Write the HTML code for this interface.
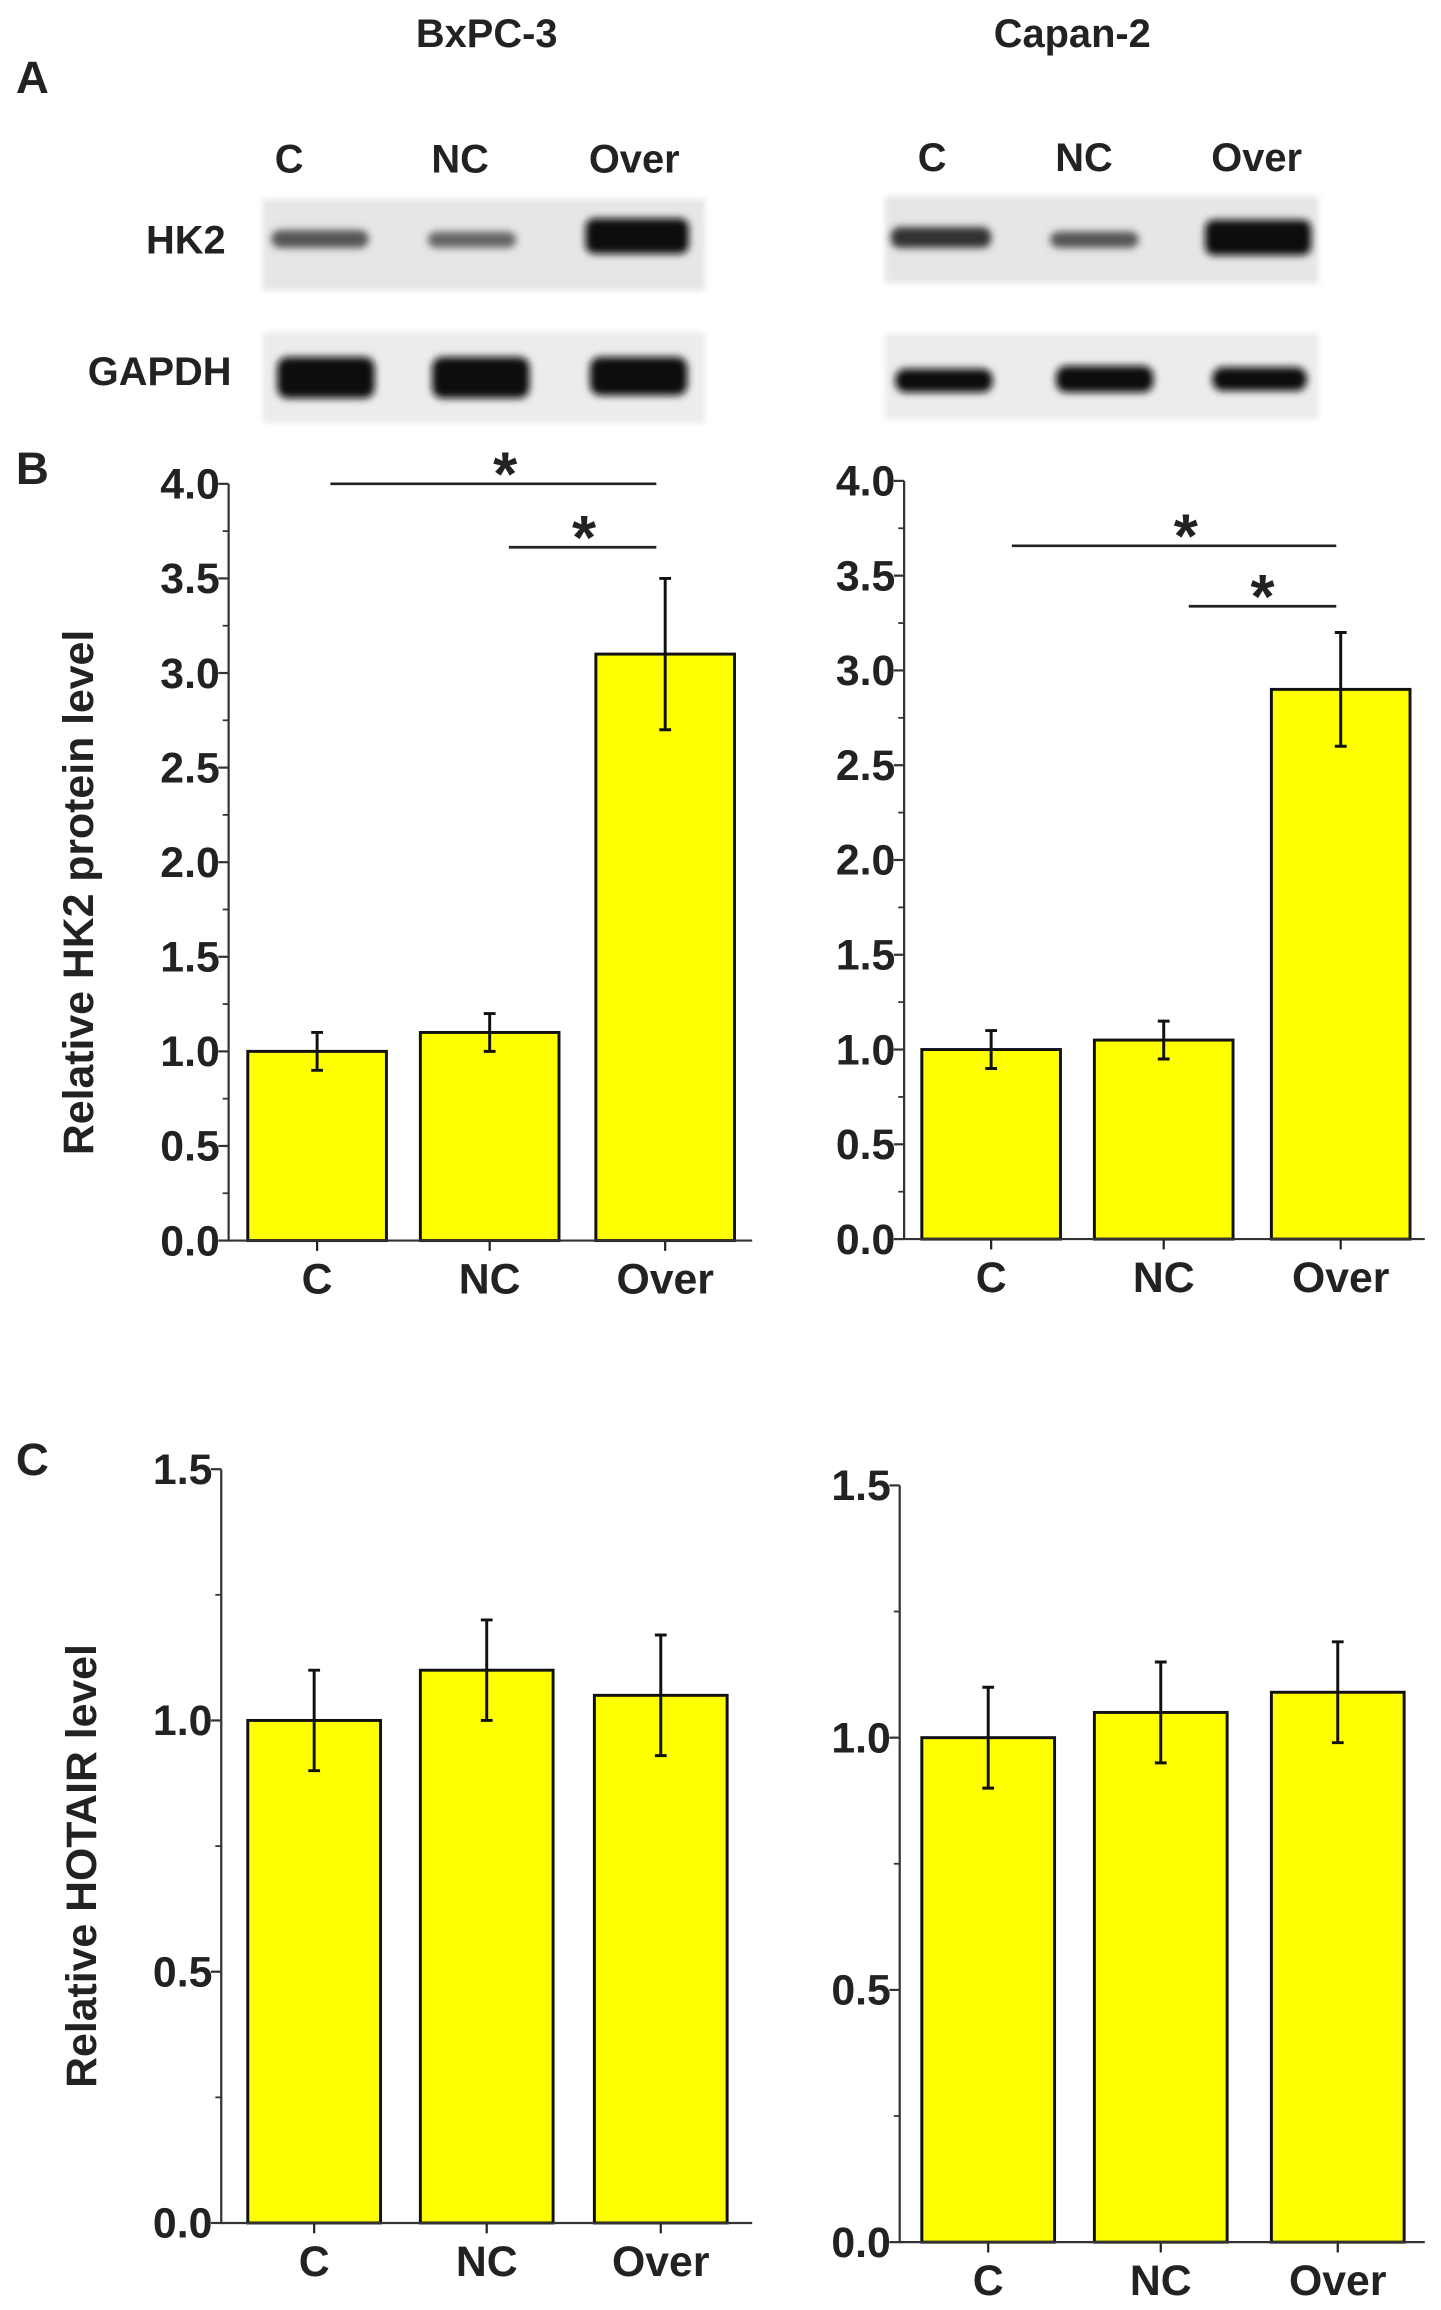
<!DOCTYPE html>
<html><head><meta charset="utf-8"><style>
html,body{margin:0;padding:0;background:#fff}
svg{display:block}
text{font-family:"Liberation Sans",Arial,sans-serif;font-weight:bold;fill:#222}
</style></head><body>
<svg id="fig" width="1441" height="2310" viewBox="0 0 977 1566" preserveAspectRatio="none" xmlns="http://www.w3.org/2000/svg">
<defs>
<filter id="blur" x="-20%" y="-50%" width="140%" height="200%"><feGaussianBlur stdDeviation="2.5"/></filter>
<filter id="blur2" x="-10%" y="-20%" width="120%" height="140%"><feGaussianBlur stdDeviation="2"/></filter>
</defs>
<g id="blots"></g>
<g id="charts"></g>
</svg>
<script>
const NS="http://www.w3.org/2000/svg";
const svg=document.getElementById('fig');
function mk(tag,attrs,parent,txt){const e=document.createElementNS(NS,tag);for(const k in attrs)e.setAttribute(k,attrs[k]);if(txt!==undefined)e.textContent=txt;(parent||svg).appendChild(e);return e;}

// ---- data ----
const categories=["C","NC","Over"];
const hk2BxpcValues=[1.0,1.1,3.1];
const hk2BxpcErrors=[0.1,0.1,0.4];
const hk2CapanValues=[1.0,1.05,2.9];
const hk2CapanErrors=[0.1,0.1,0.3];
const hotairBxpcValues=[1.0,1.1,1.05];
const hotairBxpcErrors=[0.1,0.1,0.12];
const hotairCapanValues=[1.0,1.05,1.09];
const hotairCapanErrors=[0.1,0.1,0.1];
const hk2Ticks=["0.0","0.5","1.0","1.5","2.0","2.5","3.0","3.5","4.0"];
const hotairTicks=["0.0","0.5","1.0","1.5"];

// ---- titles / letters ----
const t1=mk('text',{x:330,y:32,'font-size':27,'text-anchor':'middle'},svg,'BxPC-3');


const t2=mk('text',{x:727,y:32,'font-size':27,'text-anchor':'middle'},svg,'Capan-2');


[['A',22,63],['B',22,328],['C',22,1000]].forEach(([l,x,y])=>{
  const e=mk('text',{x:x,y:y,'font-size':31,'text-anchor':'middle'},svg,l);
  
  
});

// ---- blots ----
const blots=document.getElementById('blots');
function blot(x0,x1,laneX,labelY,hk2Bands,gBands,hkY,gY){
  categories.forEach((c,i)=>{
    const e=mk('text',{x:laneX[i],y:labelY,'font-size':27,'text-anchor':'middle'},blots,c);
    
    
  });
  const r1=mk('rect',{x:x0,y:hkY[0],width:x1-x0,height:hkY[1]-hkY[0],fill:'#e6e6e6',filter:'url(#blur2)'},blots);
  
  
  const r2=mk('rect',{x:x0,y:gY[0],width:x1-x0,height:gY[1]-gY[0],fill:'#ececec',filter:'url(#blur2)'},blots);
  
  
  hk2Bands.forEach(b=>{
    const e=mk('rect',{x:b[0],y:b[1],width:b[2],height:b[3],rx:6,fill:b[4],filter:'url(#blur)'},blots);
    
    
  });
  gBands.forEach(b=>{
    const e=mk('rect',{x:b[0],y:b[1],width:b[2],height:b[3],rx:7,fill:b[4],filter:'url(#blur)'},blots);
    
    
  });
}
blot(178,478,[196,312,430],117,
 [[184,156,66,12,'#555'],[290,157,60,11,'#666'],[397,148,70,24,'#111']],
 [[188,242,66,28,'#0a0a0a'],[293,242,66,28,'#0a0a0a'],[400,242,66,26,'#0a0a0a']],
 [135,197],[225,287]);
blot(600,894,[632,735,852],116,
 [[604,154,68,14,'#333'],[712,157,60,11,'#555'],[817,149,72,24,'#111']],
 [[607,250,66,16,'#111'],[716,248,66,18,'#0a0a0a'],[822,249,64,16,'#111']],
 [133,192],[226,284]);
[['HK2',153,172],['GAPDH',157,261]].forEach(([l,x,y])=>{
  const e=mk('text',{x:x,y:y,'font-size':27,'text-anchor':'end'},blots,l);
  
  
});

// ---- charts ----
function chart(o){
  const g=mk('g',{},document.getElementById('charts'));
  
  
  const max=o.max;
  const y=v=>o.y0-(v/max)*(o.y0-o.yTop);
  const bx=i=>o.barX[i];
  o.values.forEach((v,i)=>{
    const r=mk('rect',{x:bx(i),y:y(v),width:o.barW,height:o.y0-y(v),fill:'#ffff00',stroke:'#111','stroke-width':2},g);
    
    
    const cx=bx(i)+o.barW/2, hi=y(v+o.errors[i]), lo=y(v-o.errors[i]);
    const eb=mk('path',{d:`M${cx},${hi}V${lo}M${cx-4},${hi}H${cx+4}M${cx-4},${lo}H${cx+4}`,stroke:'#111','stroke-width':2,fill:'none'},g);
    
    
    const tk=mk('line',{x1:cx,y1:o.y0,x2:cx,y2:o.y0+7,stroke:'#222','stroke-width':1.5},g);
    
    
    const tl=mk('text',{x:cx,y:o.y0+36,'font-size':29,'text-anchor':'middle'},g,categories[i]);
    
    
  });
  const ax=mk('path',{d:`M${o.ax},${o.yTop}V${o.y0}H${o.axEnd}`,stroke:'#333','stroke-width':1.5,fill:'none'},g);
  
  
  const n=o.ticks.length-1;
  o.ticks.forEach((t,i)=>{
    const v=parseFloat(t), yy=y(v);
    const l=mk('line',{x1:o.ax-7,y1:yy,x2:o.ax,y2:yy,stroke:'#333','stroke-width':1.5},g);
    
    
    const tx=mk('text',{x:o.ax-6,y:yy+10,'font-size':29,'text-anchor':'end'},g,t);
    
    
    if(i<n){const step=parseFloat(o.ticks[1]);const ym=y(v+step/2);
      const m=mk('line',{x1:o.ax-4,y1:ym,x2:o.ax,y2:ym,stroke:'#333','stroke-width':1.2},g);
      
      }
  });
  if(o.title){
    const tt=mk('text',{x:0,y:0,'font-size':29,'text-anchor':'middle',transform:`translate(${o.titleX},${o.titleY}) rotate(-90)`},g,o.title);
    
    
  }
  (o.sig||[]).forEach(s=>{
    const l=mk('line',{x1:s[0],y1:s[2],x2:s[1],y2:s[2],stroke:'#222','stroke-width':1.8},g);
    
    
    const st=mk('text',{x:(s[0]+s[1])/2+s[3],y:s[2]+8,'font-size':42,'text-anchor':'middle'},g,'*');
    
    
  });
}
chart({name:'hk2-bxpc3-chart',values:hk2BxpcValues,errors:hk2BxpcErrors,ticks:hk2Ticks,max:4,
  y0:841,yTop:328,ax:155,axEnd:510,barX:[168,285,404],barW:94,
  title:'Relative HK2 protein level',titleX:63,titleY:605,
  sig:[[224,445,328,8],[345,445,371,1]]});
chart({name:'hk2-capan2-chart',values:hk2CapanValues,errors:hk2CapanErrors,ticks:hk2Ticks,max:4,
  y0:840,yTop:326,ax:613,axEnd:966,barX:[625,742,862],barW:94,
  sig:[[686,906,370,8],[806,906,411,0]]});
chart({name:'hotair-bxpc3-chart',values:hotairBxpcValues,errors:hotairBxpcErrors,ticks:hotairTicks,max:1.5,
  y0:1507,yTop:996,ax:150,axEnd:510,barX:[168,285,403],barW:90,
  title:'Relative HOTAIR level',titleX:65,titleY:1265});
chart({name:'hotair-capan2-chart',values:hotairCapanValues,errors:hotairCapanErrors,ticks:hotairTicks,max:1.5,
  y0:1520,yTop:1007,ax:610,axEnd:966,barX:[625,742,862],barW:90});
</script>
</body></html>
